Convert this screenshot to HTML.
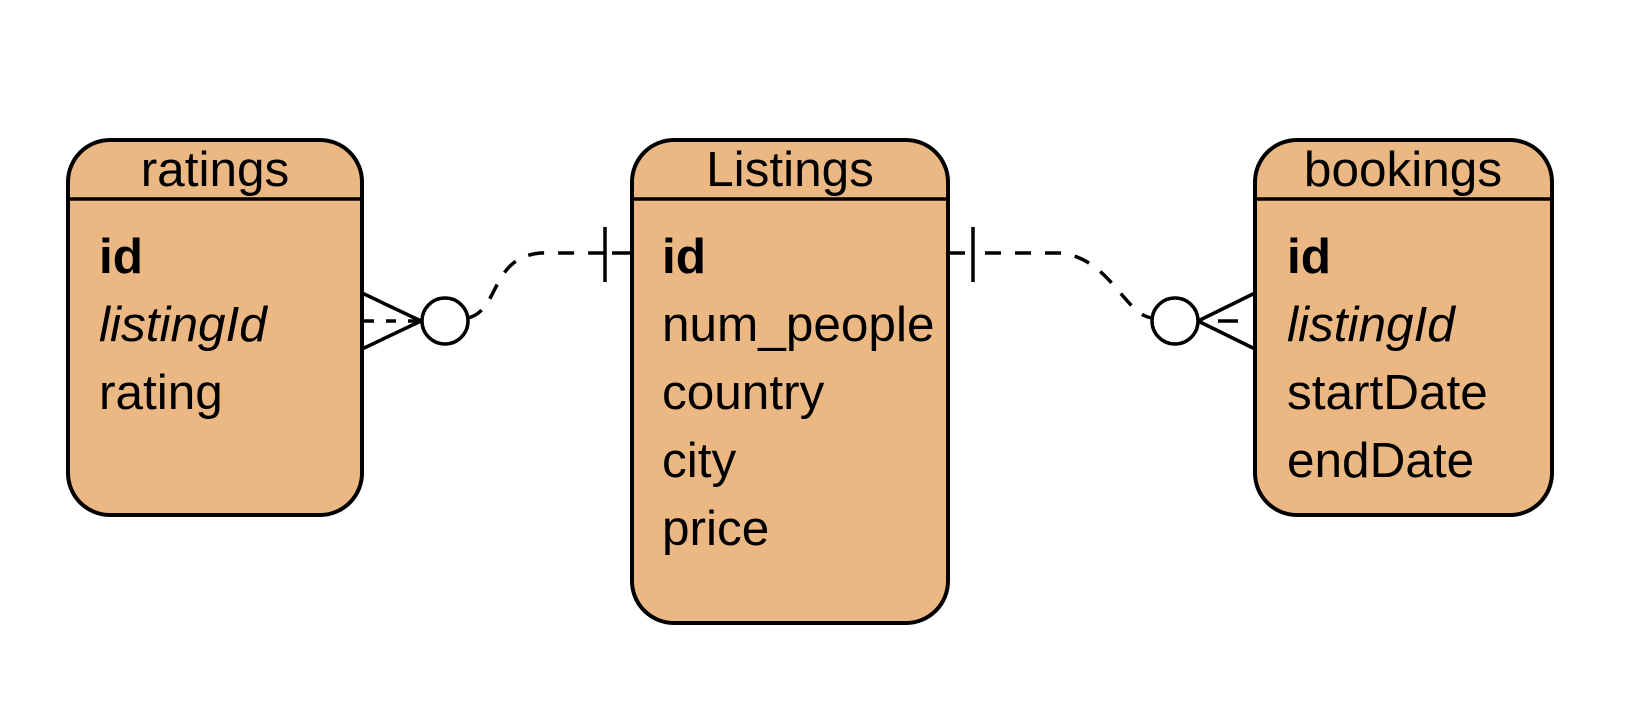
<!DOCTYPE html>
<html><head><meta charset="utf-8"><style>
html,body{margin:0;padding:0;background:#fff;}
svg text{font-family:"Liberation Sans",Arial,sans-serif;font-size:49.5px;fill:#000;}
</style></head><body>
<svg width="1640" height="710" viewBox="0 0 1640 710" xmlns="http://www.w3.org/2000/svg">
<g stroke="#000" stroke-width="4" fill="#EBB884">
<rect x="68" y="140" width="294" height="375" rx="42"/>
<rect x="632" y="140" width="316" height="483" rx="42"/>
<rect x="1255" y="140" width="297" height="375" rx="42"/>
</g>
<g stroke="#000" stroke-width="3.5">
<line x1="68" y1="199" x2="362" y2="199"/>
<line x1="632" y1="199" x2="948" y2="199"/>
<line x1="1255" y1="199" x2="1552" y2="199"/>
</g>
<text x="215" y="186" text-anchor="middle">ratings</text>
<text x="790" y="186" text-anchor="middle">Listings</text>
<text x="1403" y="186" text-anchor="middle">bookings</text>
<text x="99" y="273" font-weight="bold">id</text>
<text x="99" y="341" font-style="italic">listingId</text>
<text x="99" y="409">rating</text>
<text x="662" y="273" font-weight="bold">id</text>
<text x="662" y="341">num_people</text>
<text x="662" y="409">country</text>
<text x="662" y="477">city</text>
<text x="662" y="545">price</text>
<text x="1287" y="273" font-weight="bold">id</text>
<text x="1287" y="341" font-style="italic">listingId</text>
<text x="1287" y="409">startDate</text>
<text x="1287" y="477">endDate</text>
<g stroke="#000" stroke-width="3.5" fill="none">
<line x1="362" y1="293" x2="421" y2="321"/>
<line x1="362" y1="349" x2="421" y2="321"/>
<line x1="364" y1="321" x2="421" y2="321" stroke-dasharray="10 12"/>
<circle cx="445" cy="321" r="23" fill="#fff"/>
<path d="M468 318 C500 310 490 258 540 253 L605 253" stroke-dasharray="16 14"/>
<line x1="605" y1="227" x2="605" y2="282"/>
<line x1="612" y1="253" x2="632" y2="253"/>
<line x1="948" y1="253" x2="965" y2="253"/>
<line x1="973" y1="227" x2="973" y2="282"/>
<path d="M985 253 L1060 253 C1110 258 1125 315 1152 318" stroke-dasharray="16 14"/>
<circle cx="1175" cy="321" r="23" fill="#fff"/>
<line x1="1255" y1="293" x2="1198" y2="321"/>
<line x1="1255" y1="349" x2="1198" y2="321"/>
<line x1="1218" y1="321" x2="1238" y2="321"/>
</g>
</svg>
</body></html>
